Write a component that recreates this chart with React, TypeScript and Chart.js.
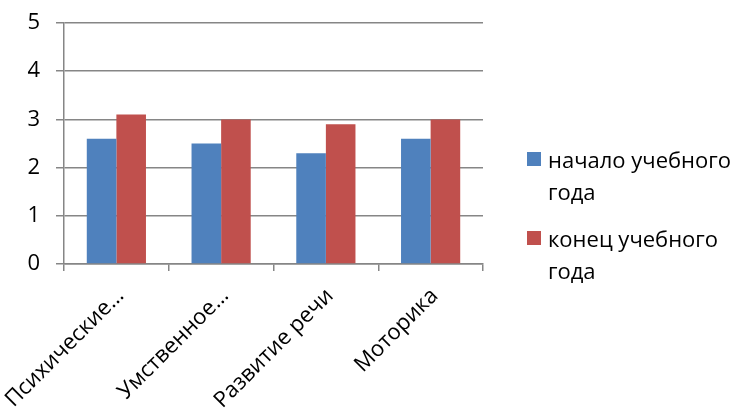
import React, { useEffect, useRef } from "react";
import { Chart, registerables } from "chart.js";

Chart.register(...registerables);

const categories = ["Психические…", "Умственное…", "Развитие речи", "Моторика"];
const startValues = [2.6, 2.5, 2.3, 2.6];
const endValues = [3.1, 3.0, 2.9, 3.0];
const seriesNames = [["начало учебного", "года"], ["конец учебного", "года"]];
const seriesColors = ["#4F81BD", "#C0504D"];
const yTicks = [0, 1, 2, 3, 4, 5];

const FONT = "'Open Sans', 'Noto Sans', sans-serif";
const GRID = "#868686";

export default function App() {
  const ref = useRef<HTMLCanvasElement>(null);
  useEffect(() => {
    if (!ref.current) return;
    const chart = new Chart(ref.current, {
      type: "bar",
      data: {
        labels: categories,
        datasets: [
          { label: seriesNames[0].join(" "), data: startValues, backgroundColor: seriesColors[0], categoryPercentage: 0.565, barPercentage: 1 },
          { label: seriesNames[1].join(" "), data: endValues, backgroundColor: seriesColors[1], categoryPercentage: 0.565, barPercentage: 1 },
        ],
      },
      options: {
        animation: false,
        responsive: false,
        maintainAspectRatio: false,
        layout: { padding: { top: 23, right: 254, left: 0, bottom: 0 } },
        plugins: { legend: { display: false }, tooltip: { enabled: false } },
        scales: {
          x: {
            grid: { display: true, drawOnChartArea: false, drawTicks: true, tickLength: 7, color: GRID, lineWidth: 1.5 },
            border: { color: GRID, width: 1.5 },
            ticks: {
              color: "#000",
              font: { family: FONT, size: 22 },
              minRotation: 45,
              maxRotation: 45,
              autoSkip: false,
              padding: 12,
              labelOffset: 4,
            },
            afterFit: (s: any) => { s.height = 146; s.paddingLeft = 0; s.paddingRight = 0; },
          },
          y: {
            min: 0,
            max: 5,
            afterBuildTicks: (s: any) => { s.ticks = yTicks.map((v) => ({ value: v })); },
            grid: { color: GRID, lineWidth: 1.5, tickLength: 8, drawTicks: true },
            border: { color: GRID, width: 1.5 },
            ticks: { color: "#000", font: { family: FONT, size: 22 }, padding: 16 },
            afterFit: (s: any) => { s.width = 64; s.paddingTop = 0; s.paddingBottom = 0; },
          },
        },
      },
    });
    return () => chart.destroy();
  }, []);

  return (
    <div style={{ position: "fixed", left: 0, top: 0, width: 737, height: 410, background: "#fff" }}>
      <canvas ref={ref} width={737} height={410} style={{ position: "absolute", left: 0, top: 0 }} />
      {seriesNames.map((lines, i) => (
        <div key={i} style={{ position: "absolute", left: 527, top: i === 0 ? 143 : 222, fontFamily: FONT, fontSize: 22, lineHeight: "32px", color: "#000" }}>
          <span style={{ position: "absolute", left: 0, top: 9, width: 14, height: 14, background: seriesColors[i] }} />
          <div style={{ marginLeft: 21, whiteSpace: "nowrap" }}>
            {lines.map((l, j) => <div key={j}>{l}</div>)}
          </div>
        </div>
      ))}
    </div>
  );
}
